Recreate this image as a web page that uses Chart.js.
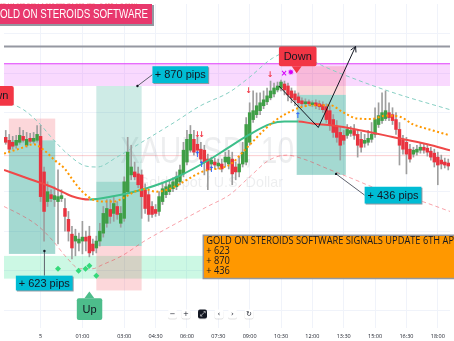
<!DOCTYPE html>
<html lang="en">
<head>
<meta charset="UTF-8">
<title>XAUUSD 10 - Gold On Steroids signals</title>
<style>
  html, body { margin: 0; padding: 0; background: #ffffff; }
  canvas { display: block; }
</style>
</head>
<body>
<canvas id="chart" width="454" height="341"></canvas>
<script src="https://cdn.jsdelivr.net/npm/chart.js"></script>
<script>
// 10 minute candles, index 0 is the first bar on the left
var opens = [4652.5,4651,4650,4648.5,4650,4653,4648.5,4652,4650.5,4651,
  4653,4635,4620,4623.5,4621,4620,4621.5,4616.5,4611,4603.5,
  4600,4599,4600,4602,4602.5,4598.5,4596.5,4600,4604,4609,
  4616,4614,4617.5,4609,4611.5,4625,4633.5,4635,4634,4633.5,
  4626,4623.5,4617.5,4616,4615,4620,4623.5,4625,4626.5,4627.5,
  4630,4634,4640,4646,4651.5,4649,4646.5,4646,4641.5,4639,
  4640,4638,4639,4640,4639,4641.5,4637.5,4635,4639,4640,
  4650,4661.5,4664,4666,4668.5,4670.5,4672.5,4674.5,4676.5,4677.5,
  4679.5,4678.5,4676,4674.5,4673,4671,4669.5,4670.5,4669,4670,
  4669.5,4669,4668,4666,4661.5,4658,4655,4653.5,4653.5,4654.5,
  4656,4654,4651.5,4649.5,4650,4651.5,4654,4659,4661,4662,
  4665,4664,4661.5,4656.5,4651,4650,4646.5,4644,4645,4646,
  4647.5,4647,4645.5,4644.5,4642.5,4641,4640,4639.5];
var highs = [4656,4654,4653,4653.5,4657.5,4656,4655,4654.5,4655,4658.5,
  4658.5,4637.5,4630,4626,4627.5,4636,4626,4621.5,4615,4607.5,
  4606,4604,4610,4605,4607.5,4601,4602.5,4609,4617.5,4621,
  4621,4622.5,4620,4617.5,4632.5,4652.5,4648.5,4640,4637.5,4636,
  4629,4626,4620,4618.5,4625,4629,4630,4631,4632,4635,
  4638.5,4650,4656,4658.5,4656,4652.5,4650,4648.5,4644,4642.5,
  4642,4641.5,4641.5,4645,4646,4645,4640,4642.5,4650,4662.5,
  4670,4676,4675,4675,4676,4677.5,4681,4680,4680.5,4681.5,
  4681,4680,4677.5,4676,4675,4672.5,4672,4671.5,4671,4671.5,
  4671,4670.5,4669.5,4668.5,4664,4661,4657.5,4656,4659,4658,
  4659,4656.5,4655,4654,4656,4660,4667.5,4670,4675,4676,
  4670,4667.5,4665,4660,4653.5,4652.5,4649,4647.5,4648.5,4649.5,
  4649.5,4649,4647.5,4646.5,4645,4643.5,4642,4641.5];
var lows = [4649,4645,4646.5,4647,4649,4650,4647.5,4649.5,4649.5,4650,
  4620,4600,4617.5,4620,4617.5,4598.5,4620,4605,4600,4591,
  4592.5,4595,4593.5,4595,4592,4593,4594,4597.5,4602,4607,
  4609,4610,4611,4607,4610,4624,4631,4631,4627,4611.5,
  4614,4610,4612,4612.5,4613,4618.5,4622,4623.5,4625,4626,
  4628.5,4632.5,4638.5,4645,4643.5,4644,4640,4633.5,4626,4637,
  4636.5,4636.5,4635,4637.5,4636.5,4628.5,4631,4632.5,4637.5,4638.5,
  4648.5,4660,4662.5,4664,4667,4669,4671.5,4673,4675.5,4676,
  4674,4671,4670,4668.5,4667.5,4668,4668,4668.5,4668,4667,
  4666.5,4665,4660,4656,4652.5,4650,4641,4649,4652,4653,
  4651.5,4642.5,4645,4647.5,4648.5,4650,4652.5,4657.5,4659.5,4661,
  4661,4659,4654,4638.5,4644,4634,4640,4642.5,4643.5,4644.5,
  4644.5,4643,4641,4637.5,4628.5,4636.5,4637,4636];
var closes = [4650,4646.5,4648,4651,4653.5,4651,4651.5,4650.5,4652,4654,
  4622.5,4615,4625,4621.5,4623,4622.5,4623,4612.5,4605,4596.5,
  4602.5,4601,4602,4600,4594,4595,4600,4605,4614,4616.5,
  4612.5,4619,4613.5,4614,4630,4645,4637.5,4632.5,4628.5,4622.5,
  4616.5,4613.5,4613.5,4614,4622.5,4626.5,4627.5,4628.5,4630,4632.5,
  4636,4646,4651.5,4654,4645,4646,4641.5,4640,4636,4641,
  4638.5,4639.5,4636.5,4642.5,4642.5,4634,4635,4639,4645,4659,
  4665,4666,4668.5,4670,4671.5,4673.5,4676,4677.5,4678.5,4680.5,
  4676.5,4674,4672.5,4671.5,4670,4669.5,4670.5,4669.5,4670,4668.5,
  4668,4666.5,4661.5,4658.5,4655,4652.5,4648.5,4651,4656.5,4656,
  4653.5,4648.5,4647.5,4651,4652,4654,4661.5,4663.5,4665,4666,
  4662.5,4661,4656.5,4648.5,4646.5,4644,4641.5,4646,4646.5,4647.5,
  4646,4645,4642.5,4640,4638.5,4639,4638.5,4638];

// time axis
var tickIndex = [10, 22, 34, 43, 52, 61, 70, 79, 88, 97, 106, 115, 124];
var tickText = ['5', '01:00', '03:00', '04:30', '06:00', '07:30', '09:00', '10:30', '12:00', '13:30', '15:00', '16:30', '18:00'];
var gridPrices = [4565, 4585, 4605, 4625, 4645, 4665, 4685, 4705];

// slow average, coloured by slope
var maIdx = [-0.5, 7, 14, 19, 24, 30, 40, 49, 59, 63, 70, 76, 80, 84, 88, 94, 102, 111, 121, 127.5];
var maVal = [4636, 4631.3, 4626.8, 4622.7, 4621, 4622.4, 4626.5, 4632.3, 4641.8, 4646.3, 4654, 4659.3, 4660.5, 4660.5, 4659.5, 4658.5, 4656, 4652.7, 4649, 4646];

// fast average (orange dots)
var emaIdx = [-0.5, 4, 8, 11, 14, 17, 19, 22, 25, 28, 31, 34, 37, 40, 43, 46, 49, 52, 55, 58, 62, 65, 68, 71, 74, 77, 80, 84, 88, 93, 97, 101, 105, 109, 113, 117, 122, 127.5];
var emaVal = [4644.3, 4646.8, 4649, 4646, 4641, 4636.5, 4631.5, 4625, 4621, 4620, 4620, 4622, 4625, 4626.3, 4625, 4625.8, 4628, 4631, 4634, 4636, 4637, 4639.5, 4645, 4650.5, 4656, 4660.5, 4664, 4667.3, 4668.8, 4668.8, 4665, 4662, 4661.8, 4663.5, 4663, 4659, 4656.3, 4653.5];

// channel lines
var upperIdx = [-0.5, 5.1, 9.4, 13.6, 17.8, 22.9, 26.3, 31.9, 39, 48.3, 55.9, 64.3, 70, 76.5, 82.7, 90.6, 101, 112.3, 127.5];
var upperVal = [4671, 4666.5, 4660, 4651.5, 4644, 4638, 4637.5, 4642.5, 4650, 4660, 4668.5, 4675.5, 4683, 4692.5, 4696.5, 4689, 4681.5, 4674.5, 4666.5];
var lowerIdx = [-0.5, 5.1, 9.4, 13.6, 17.8, 21.2, 24.9, 27.7, 33.3, 39.8, 47.4, 57.9, 64.3, 70, 75.6, 80.7, 85.5, 92.5, 99.6, 106.6, 117.9, 127.5];
var lowerVal = [4617.5, 4612.5, 4607.5, 4600, 4591, 4586, 4586, 4588, 4592.5, 4600, 4607.5, 4617.5, 4623.5, 4632.5, 4641, 4643.5, 4641.5, 4636.5, 4631.5, 4626.5, 4621, 4615];

// buy markers under the lows
var diamondIdx = [15, 20.9, 22.9, 24, 26];
var diamondVal = [4586, 4585, 4586, 4587.5, 4582.5];

var GREEN = '#3f9e46', RED = '#e8333f';

function pts(xs, ys) {
  return xs.map(function (x, i) { return { x: x, y: ys[i] }; });
}

var bodies = opens.map(function (o, i) { return { x: i, y: [o, closes[i]] }; });
var wicks = lows.map(function (l, i) { return { x: i, y: [l, highs[i]] }; });
var bodyColors = opens.map(function (o, i) { return closes[i] >= o ? GREEN : RED; });

// drawings on the chart, in bar index / price units
var zones = [
  { x0: 0.9, x1: 14.2, p0: 4662, p1: 4651, c: 'rgba(242,54,69,0.2)' },
  { x0: 0.9, x1: 14.2, p0: 4651, p1: 4593.5, c: 'rgba(8,153,129,0.37)' },
  { x0: 26, x1: 39, p0: 4678.5, p1: 4597.5, c: 'rgba(8,153,129,0.2)' },
  { x0: 26, x1: 39, p0: 4630, p1: 4597.5, c: 'rgba(8,153,129,0.22)' },
  { x0: 26, x1: 39, p0: 4597.5, p1: 4575, c: 'rgba(242,54,69,0.2)' },
  { x0: 83.5, x1: 97.6, p0: 4688.5, p1: 4674, c: 'rgba(242,54,69,0.2)' },
  { x0: 83.5, x1: 97.6, p0: 4674, p1: 4633.5, c: 'rgba(8,153,129,0.37)' }
];
var pipTags = [
  { t: '+ 870 pips', x0: 42.1, x1: 58.1, p0: 4688.5, p1: 4680, ax: 37.8, ap: 4678.5 },
  { t: '+ 436 pips', x0: 103, x1: 119.3, p0: 4627.5, p1: 4619, ax: 94.8, ap: 4634 },
  { t: '+ 623 pips', x0: 2.9, x1: 19.2, p0: 4582.5, p1: 4575, ax: 11.1, ap: 4595 }
];
var sideTags = [
  { t: 'Down', x0: 78.4, x1: 89.2, p0: 4698.5, p1: 4688.5, tx: 83.5, tp: 4685, c: '#f23645' },
  { t: 'Down', x0: -8.4, x1: 2.3, p0: 4678.5, p1: 4668.5, c: '#f23645', right: true },
  { t: 'Up', x0: 20.4, x1: 27.7, p0: 4571, p1: 4560, tx: 24, tp: 4574.5, c: '#4dbd8b' }
];
var signals = [
  { x: 69.7, p: 4676, t: '\u2193', c: '#f23645' },
  { x: 75.9, p: 4684, t: '\u2193', c: '#f23645' },
  { x: 55, p: 4653.5, t: '\u2193', c: '#f23645' },
  { x: 56.2, p: 4653.5, t: '\u2193', c: '#f23645' },
  { x: 79.9, p: 4684.5, t: '\u00d7', c: '#d500f9' },
  { x: 81.8, p: 4685, t: '\u2739', c: '#d500f9' },
  { x: 83.8, p: 4663.5, t: '\u2191', c: '#2962ff' },
  { x: 55, p: 4643.5, t: '\u2191', c: '#2962ff' },
  { x: 56.2, p: 4638.5, t: '\u2191', c: '#2962ff' },
  { x: 59, p: 4636, t: '\u2191', c: '#2962ff' }
];
var pathIdx = [78.4, 89.7, 100.4];
var pathVal = [4678.5, 4657.5, 4698.5];

// draw text squeezed or stretched to span [x0, x1]
function spanText(ctx, text, x0, x1, y) {
  var k = (x1 - x0) / ctx.measureText(text).width;
  ctx.save();
  ctx.translate(x0, y);
  ctx.scale(k, 1);
  ctx.fillText(text, 0, 0);
  ctx.restore();
}

var overlay = {
  id: 'overlay',
  beforeDatasetsDraw: function (chart) {
    var ctx = chart.ctx, xs = chart.scales.x, ys = chart.scales.y;
    var X = function (v) { return xs.getPixelForValue(v); };
    var Y = function (p) { return ys.getPixelForValue(p); };
    var L = X(-0.5), R = X(127.5);
    ctx.save();

    // symbol watermark
    ctx.fillStyle = 'rgba(19,23,34,0.075)';
    ctx.textAlign = 'left';
    ctx.textBaseline = 'middle';
    ctx.font = '36px "Liberation Sans"';
    spanText(ctx, 'XAUUSD, 10', 120, 294, 153);
    ctx.font = '15px "Liberation Sans"';
    spanText(ctx, 'Gold Spot / U.S. Dollar', 138, 283, 183);

    // horizontal zones
    ctx.fillStyle = 'rgba(224,64,251,0.2)';
    ctx.fillRect(L, Y(4690), R - L, Y(4678.5) - Y(4690));
    ctx.strokeStyle = '#e040fb';
    ctx.lineWidth = 1;
    ctx.beginPath(); ctx.moveTo(L, Y(4690) + 0.5); ctx.lineTo(R, Y(4690) + 0.5); ctx.stroke();
    ctx.fillStyle = 'rgba(0,220,120,0.2)';
    ctx.fillRect(L, Y(4592.5), R - L, Y(4581) - Y(4592.5));

    ctx.strokeStyle = '#9598a1';
    ctx.lineWidth = 2;
    ctx.beginPath(); ctx.moveTo(L, Y(4698.5)); ctx.lineTo(R, Y(4698.5)); ctx.stroke();

    ctx.strokeStyle = 'rgba(242,54,69,0.25)';
    ctx.lineWidth = 1;
    ctx.beginPath(); ctx.moveTo(L, Y(4643.5) + 0.5); ctx.lineTo(R, Y(4643.5) + 0.5); ctx.stroke();

    // position boxes
    zones.forEach(function (z) {
      ctx.fillStyle = z.c;
      ctx.fillRect(X(z.x0), Y(z.p0), X(z.x1) - X(z.x0), Y(z.p1) - Y(z.p0));
    });
    ctx.restore();
  },
  afterDatasetsDraw: function (chart) {
    var ctx = chart.ctx, xs = chart.scales.x, ys = chart.scales.y;
    var X = function (v) { return xs.getPixelForValue(v); };
    var Y = function (p) { return ys.getPixelForValue(p); };
    ctx.save();

    // trade path with arrow
    ctx.strokeStyle = '#131722';
    ctx.lineWidth = 1;
    ctx.beginPath();
    pathIdx.forEach(function (x, i) {
      if (i === 0) ctx.moveTo(X(x), Y(pathVal[i])); else ctx.lineTo(X(x), Y(pathVal[i]));
    });
    ctx.stroke();
    var ex = X(pathIdx[2]), ey = Y(pathVal[2]);
    var a = Math.atan2(ey - Y(pathVal[1]), ex - X(pathIdx[1]));
    ctx.beginPath();
    ctx.moveTo(ex - 6 * Math.cos(a - 0.5), ey - 6 * Math.sin(a - 0.5));
    ctx.lineTo(ex, ey);
    ctx.lineTo(ex - 6 * Math.cos(a + 0.5), ey - 6 * Math.sin(a + 0.5));
    ctx.stroke();

    // signal glyphs
    ctx.textAlign = 'center';
    ctx.textBaseline = 'middle';
    ctx.font = 'bold 8px "DejaVu Sans"';
    signals.forEach(function (s) {
      ctx.fillStyle = s.c;
      ctx.fillText(s.t, X(s.x), Y(s.p));
    });

    // pip callouts
    pipTags.forEach(function (g) {
      var x0 = X(g.x0), x1 = X(g.x1), y0 = Y(g.p0), y1 = Y(g.p1);
      var axp = X(g.ax), ayp = Y(g.ap);
      ctx.strokeStyle = '#5d606b';
      ctx.lineWidth = 1;
      ctx.beginPath();
      ctx.moveTo(axp, ayp);
      if (axp < x0) ctx.lineTo(x0, (y0 + y1) / 2); else ctx.lineTo(axp, y0);
      ctx.stroke();
      ctx.fillStyle = '#131722';
      ctx.beginPath(); ctx.arc(axp, ayp, 1.2, 0, Math.PI * 2); ctx.fill();
      ctx.fillStyle = '#9598a1';
      ctx.fillRect(x0 + 1, y0 + 1, x1 - x0, y1 - y0);
      ctx.fillStyle = '#00bcd4';
      ctx.fillRect(x0, y0, x1 - x0, y1 - y0);
      ctx.fillStyle = '#131722';
      ctx.font = '11px "Liberation Sans"';
      ctx.textAlign = 'center';
      ctx.fillText(g.t, (x0 + x1) / 2, (y0 + y1) / 2 + 0.5);
    });

    // up / down tags
    sideTags.forEach(function (g) {
      var x0 = X(g.x0), x1 = X(g.x1), y0 = Y(g.p0), y1 = Y(g.p1);
      ctx.fillStyle = g.c;
      ctx.beginPath();
      ctx.roundRect(x0, y0, x1 - x0, y1 - y0, 2);
      ctx.fill();
      if (g.tx !== undefined) {
        var tx = X(g.tx), ty = Y(g.tp);
        var edge = ty > y1 ? y1 : y0;
        ctx.beginPath();
        ctx.moveTo(tx - 5, edge); ctx.lineTo(tx, ty); ctx.lineTo(tx + 5, edge);
        ctx.closePath(); ctx.fill();
      }
      ctx.fillStyle = '#131722';
      ctx.font = '11px "Liberation Sans"';
      if (g.right) {
        ctx.textAlign = 'right';
        ctx.fillText(g.t, x1 - 5.5, (y0 + y1) / 2 + 0.5);
      } else {
        ctx.textAlign = 'center';
        ctx.fillText(g.t, (x0 + x1) / 2, (y0 + y1) / 2 + 0.5);
      }
    });

    // signal summary box
    var bx0 = X(56.7), bx1 = chart.width + 2, by0 = Y(4603), by1 = Y(4581);
    ctx.fillStyle = '#ff9800';
    ctx.fillRect(bx0, by0, bx1 - bx0, by1 - by0);
    ctx.strokeStyle = '#9598a1';
    ctx.lineWidth = 1.5;
    ctx.beginPath();
    ctx.moveTo(bx1, by1); ctx.lineTo(bx0, by1); ctx.lineTo(bx0, by0); ctx.lineTo(bx1, by0);
    ctx.stroke();
    ctx.fillStyle = '#131722';
    ctx.textAlign = 'left';
    ctx.font = '10px "Open Sans"';
    var head = 'GOLD ON STEROIDS SOFTWARE SIGNALS UPDATE 6TH AP';
    var k = (chart.width - bx0 - 3) / ctx.measureText(head).width;
    var lines = ['GOLD ON STEROIDS SOFTWARE SIGNALS UPDATE 6TH APRIL', '+ 623', '+ 870', '+ 436'];
    ctx.save();
    ctx.translate(bx0 + 3, by0 + 6.5);
    ctx.scale(k, 1);
    lines.forEach(function (t, i) { ctx.fillText(t, 0, i * 10); });
    ctx.restore();

    // title badge
    ctx.fillStyle = '#9598a1';
    ctx.fillRect(0, 5, 154, 21);
    ctx.fillStyle = '#e8386d';
    ctx.fillRect(0, 4, 152, 20);
    ctx.font = '13px "Liberation Sans"';
    var full = 'GOLD ON STEROIDS SOFTWARE';
    var gw = ctx.measureText('G').width;
    var tk = 148 / (ctx.measureText(full).width - gw);
    ctx.save();
    ctx.translate(0, 14.5);
    ctx.scale(tk, 1);
    ctx.fillStyle = '#ffffff';
    ctx.fillText(full, -gw, 0);
    ctx.restore();

    // legend values behind the badge
    ctx.font = '5.5px "Liberation Sans"';
    ctx.fillStyle = 'rgba(242,54,69,0.55)';
    ctx.fillText('65 H4,665.940 L4,660.920 C4,662.450 \u22120.655 (\u22120.01%)', 0, 5);

    // navigation buttons
    var btns = [['\u2212', 172.5], ['+', 186], ['\u2922', 202.5], ['\u2039', 219], ['\u203a', 232.5], ['\u21bb', 249]];
    btns.forEach(function (b, i) {
      ctx.fillStyle = 'rgba(0,0,0,0.12)';
      ctx.beginPath(); ctx.roundRect(b[1] - 4.5, 310.5, 9, 9, 2); ctx.fill();
      ctx.fillStyle = i === 2 ? '#131722' : '#ffffff';
      ctx.beginPath(); ctx.roundRect(b[1] - 4.5, 309.5, 9, 9, 2); ctx.fill();
      ctx.fillStyle = i === 2 ? '#ffffff' : '#131722';
      ctx.textAlign = 'center';
      ctx.font = '7px "DejaVu Sans"';
      ctx.fillText(b[0], b[1], 314.5);
    });
    ctx.restore();
  }
};

Chart.defaults.font.family = '"Open Sans", sans-serif';

new Chart(document.getElementById('chart').getContext('2d'), {
  type: 'bar',
  data: {
    datasets: [
      { type: 'line', data: pts(upperIdx, upperVal), borderColor: '#86cfc3', borderWidth: 1, borderDash: [4, 3],
        pointRadius: 0, cubicInterpolationMode: 'monotone', order: 9 },
      { type: 'line', data: pts(lowerIdx, lowerVal), borderColor: 'rgba(242,54,69,0.45)', borderWidth: 1, borderDash: [4, 3],
        pointRadius: 0, cubicInterpolationMode: 'monotone', order: 9 },
      { data: wicks, backgroundColor: '#9e9e9e', barThickness: 1, grouped: false, order: 7 },
      { data: bodies, backgroundColor: bodyColors, barThickness: 2.8, grouped: false, minBarLength: 1, order: 6 },
      { type: 'line', data: pts(maIdx, maVal), borderWidth: 2, pointRadius: 0, cubicInterpolationMode: 'monotone',
        borderColor: '#3dbf8a',
        segment: { borderColor: function (c) { return c.p1.parsed.y < c.p0.parsed.y ? '#f04848' : '#3dbf8a'; } },
        order: 4 },
      { type: 'line', data: pts(emaIdx, emaVal), borderColor: '#ff9800', borderWidth: 2, borderDash: [2, 2.5],
        pointRadius: 0, cubicInterpolationMode: 'monotone', order: 3 },
      { type: 'line', data: pts(diamondIdx, diamondVal), showLine: false, pointStyle: 'rectRot', pointRadius: 3,
        pointBackgroundColor: '#33d97a', pointBorderWidth: 0, order: 1 }
    ]
  },
  options: {
    responsive: false,
    animation: false,
    events: [],
    layout: { padding: 0 },
    plugins: { legend: { display: false }, tooltip: { enabled: false } },
    scales: {
      x: {
        type: 'linear', min: -0.5, max: 127.5, offset: false,
        grid: { color: '#f0f3fa', drawTicks: false, offset: false },
        border: { display: false },
        afterBuildTicks: function (s) { s.ticks = tickIndex.map(function (v) { return { value: v }; }); },
        afterFit: function (s) { s.height = 13; },
        ticks: {
          autoSkip: false, maxRotation: 0, padding: 5, color: '#131722', font: { size: 5.5 },
          callback: function (v) { var i = tickIndex.indexOf(v); return i < 0 ? '' : tickText[i]; }
        }
      },
      y: {
        min: 4556, max: 4720,
        grid: { color: '#f0f3fa', drawTicks: false },
        border: { display: false },
        ticks: { display: false },
        afterBuildTicks: function (s) { s.ticks = gridPrices.map(function (v) { return { value: v }; }); },
        afterFit: function (s) { s.width = 0; }
      }
    }
  },
  plugins: [overlay]
});
</script>
</body>
</html>
